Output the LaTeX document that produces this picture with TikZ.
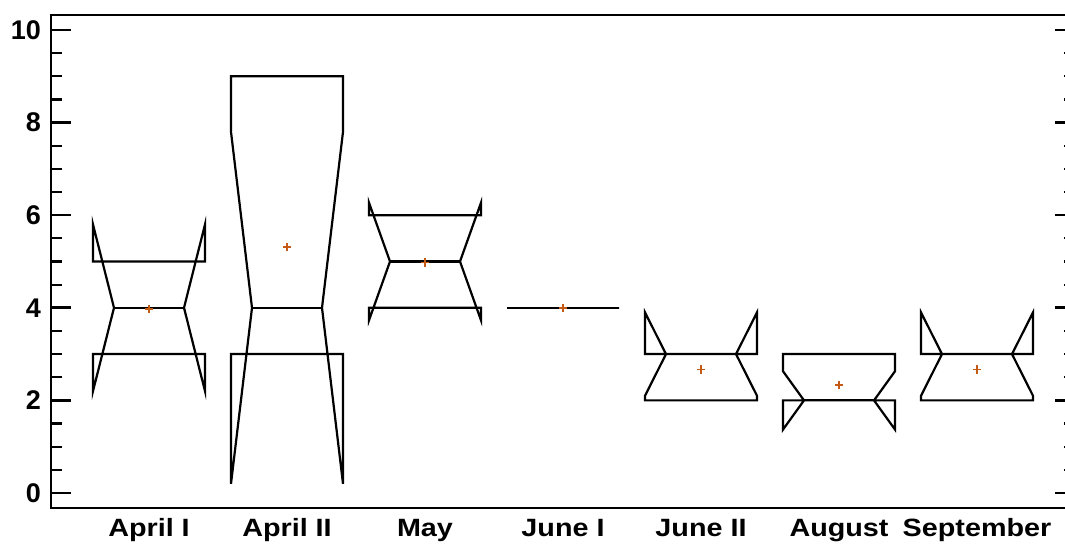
\documentclass[tikz,border=0pt]{standalone}
\usepackage{fontspec}
\setmainfont{Liberation Sans}
\newfontfamily\widelabelfont{Liberation Sans}[FakeStretch=1.15]
\usepackage{tikz}
\definecolor{meanorange}{RGB}{196,90,20}

\begin{document}
\begin{tikzpicture}[x=0.5pt, y=23.15pt, line width=1.1pt]
    \tikzstyle{frame}=[draw=black, line width=1.3pt]
    \tikzstyle{major tick}=[draw=black, line width=1.3pt]
    \tikzstyle{minor tick}=[draw=black, line width=1.1pt]
    \tikzstyle{notch box}=[draw=black, line width=1.1pt, line join=miter]
    \tikzstyle{mean mark}=[draw=meanorange, line width=0.75pt]
    \tikzstyle{tick label}=[anchor=east, inner sep=0pt, font=\fontsize{13.5}{16}\selectfont\bfseries]
    \tikzstyle{cat label}=[anchor=base, inner sep=0pt, font=\fontsize{12.5}{15}\widelabelfont\bfseries]

    \useasboundingbox (0,-1.1231) rectangle (1065,10.648);

    % Draw the frame
    \draw[frame] (51,-0.324) rectangle (1075,10.324);

    % Ticks and labels of the value axis
    \foreach \v in {0,2,...,10} {
        \path[major tick] (51,\v) edge (71,\v);
        \path[major tick] (1055,\v) edge (1075,\v);
        \node[tick label] (Y-\v) at (42,\v) {\v};
    }
    \foreach \v in {0.5,1,...,9.5} {
        \path[minor tick] (51,\v) edge (62,\v);
        \path[minor tick] (1064,\v) edge (1075,\v);
    }

    % Draw the notched boxes: name / centre / Q1 / median / Q3 / notch low / notch high / mean
    \foreach \name/\cx/\qa/\med/\qc/\nlo/\nhi/\mean in {
        April I/149/3/4/5/2.2/5.8/3.97,
        April II/287/3/4/9/0.2/7.8/5.31,
        May/425/4/5/6/3.73/6.27/4.98,
        June I/563/4/4/4/4/4/4,
        June II/701/2/3/3/2.1/3.9/2.67,
        August/839/2/2/3/1.37/2.63/2.33,
        September/977/2/3/3/2.1/3.9/2.67} {
        \draw[notch box] (\cx-56,\qc) -- (\cx-56,\nhi) -- (\cx-35,\med) -- (\cx-56,\nlo)
            -- (\cx-56,\qa) -- (\cx+56,\qa) -- (\cx+56,\nlo) -- (\cx+35,\med)
            -- (\cx+56,\nhi) -- (\cx+56,\qc) -- cycle;
        \draw[notch box] (\cx-35,\med) -- (\cx+35,\med);
        \draw[mean mark] (\cx-4,\mean) -- (\cx+4,\mean) (\cx,\mean-0.09) -- (\cx,\mean+0.09);
        \node[cat label] at (\cx,-0.95) {\name};
    }
\end{tikzpicture}
\end{document}
